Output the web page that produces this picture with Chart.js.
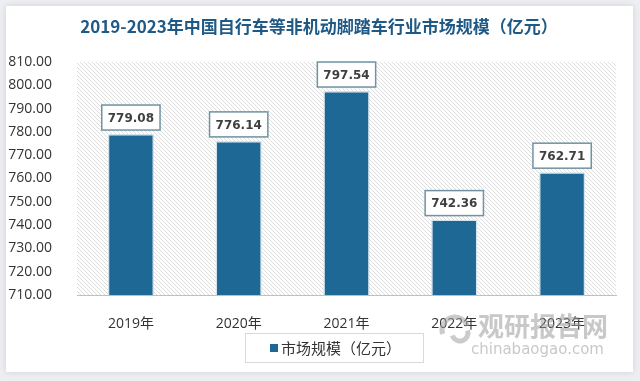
<!DOCTYPE html>
<html>
<head>
<meta charset="utf-8">
<script src="https://cdn.jsdelivr.net/npm/chart.js@4.4.0/dist/chart.umd.min.js"></script>
<style>
  html, body { margin: 0; padding: 0; background: #eceef1; }
  canvas { display: block; }
</style>
</head>
<body>
<canvas id="chart" width="640" height="381"></canvas>
<script>
const title = '2019-2023年中国自行车等非机动脚踏车行业市场规模（亿元）';
const years = ['2019年', '2020年', '2021年', '2022年', '2023年'];
const marketSize = [779.08, 776.14, 797.54, 742.36, 762.71];
const seriesName = '市场规模（亿元）';
const yMin = 710;
const yMax = 810;
const yStep = 10;

const barColor = '#1d6894';

// card, hatch, title, labels, legend, watermark
const decor = {
    id: 'decor',
    beforeDraw(chart) {
        const ctx = chart.ctx;
        const a = chart.chartArea;
        ctx.save();
        ctx.fillStyle = '#eceef1';
        ctx.fillRect(0, 0, chart.width, chart.height);
        ctx.shadowColor = 'rgba(0,0,0,0.12)';
        ctx.shadowBlur = 6;
        ctx.fillStyle = '#ffffff';
        ctx.fillRect(6, 6, 627, 366);
        ctx.restore();

        // diagonal hatch inside plot area
        ctx.save();
        ctx.beginPath();
        ctx.rect(a.left, a.top, a.right - a.left, a.bottom - a.top);
        ctx.clip();
        ctx.strokeStyle = '#dcdcdc';
        ctx.lineWidth = 1;
        const h = a.bottom - a.top;
        for (let x = a.left - h; x < a.right; x += 4) {
            ctx.beginPath();
            ctx.moveTo(x, a.top);
            ctx.lineTo(x + h, a.bottom);
            ctx.stroke();
        }
        ctx.restore();
    },
    afterDatasetsDraw(chart) {
        const ctx = chart.ctx;
        const meta = chart.getDatasetMeta(0);
        ctx.save();
        ctx.font = 'bold 12px "DejaVu Sans"';
        ctx.textAlign = 'center';
        ctx.textBaseline = 'middle';
        meta.data.forEach((bar, i) => {
            const txt = marketSize[i].toFixed(2);
            const w = ctx.measureText(txt).width + 12;
            const bh = 25;
            const bx = bar.x - w / 2;
            const by = bar.y - 4 - bh;
            ctx.fillStyle = '#ffffff';
            ctx.fillRect(bx, by, w, bh);
            ctx.strokeStyle = '#6f93a3';
            ctx.lineWidth = 1.5;
            ctx.strokeRect(bx, by, w, bh);
            ctx.fillStyle = '#404040';
            ctx.fillText(txt, bar.x, by + bh / 2 + 1);
        });
        ctx.restore();
    },
    afterDraw(chart) {
        const ctx = chart.ctx;
        ctx.save();
        // title
        ctx.font = 'bold 17px "Noto Sans CJK SC"';
        ctx.fillStyle = '#1f5a86';
        ctx.textAlign = 'center';
        ctx.textBaseline = 'middle';
        ctx.fillText(title, 319, 27);

        // legend
        ctx.fillStyle = '#ffffff';
        ctx.fillRect(245, 333, 178, 29);
        ctx.strokeStyle = '#d9d9d9';
        ctx.lineWidth = 1;
        ctx.strokeRect(245.5, 333.5, 178, 29);
        ctx.fillStyle = barColor;
        ctx.fillRect(270, 344, 8, 8);
        ctx.font = '15px "Noto Sans CJK SC"';
        ctx.fillStyle = '#333333';
        ctx.textAlign = 'left';
        ctx.fillText(seriesName, 281, 348);

        // watermark
        ctx.globalAlpha = 0.55;
        ctx.fillStyle = '#9a9a9a';
        ctx.font = 'bold 26px "Noto Sans CJK SC"';
        ctx.fillText('观研报告网', 478, 326);
        ctx.font = '15px "DejaVu Sans"';
        ctx.fillText('chinabaogao.com', 471, 350);
        ctx.strokeStyle = '#a0a0a0';
        ctx.lineWidth = 5;
        ctx.beginPath();
        ctx.arc(455, 330, 13, Math.PI * 0.9, Math.PI * 1.9);
        ctx.stroke();
        ctx.beginPath();
        ctx.arc(460, 333, 8, Math.PI * 1.9, Math.PI * 0.9);
        ctx.stroke();
        ctx.restore();
    }
};

const ctx = document.getElementById('chart').getContext('2d');
const myChart = new Chart(ctx, {
    type: 'bar',
    data: {
        labels: years,
        datasets: [{
            label: seriesName,
            data: marketSize,
            backgroundColor: barColor,
            borderColor: '#d3e4ee',
            borderWidth: 1.5,
            barPercentage: 0.43,
            categoryPercentage: 1,
        }],
    },
    options: {
        responsive: false,
        animation: false,
        layout: {
            padding: { top: 62, right: 24, left: 0, bottom: 0 },
        },
        plugins: {
            legend: { display: false },
            title: { display: false },
            tooltip: { enabled: false },
        },
        scales: {
            x: {
                grid: { display: false },
                border: { display: true, color: '#bfbfbf', width: 1 },
                ticks: {
                    color: '#333333',
                    font: { family: '"Open Sans", "Noto Sans CJK SC"', size: 14 },
                    padding: 13,
                },
                afterFit(scale) { scale.height = 86; },
            },
            y: {
                min: yMin,
                max: yMax,
                grid: { display: false },
                border: { display: false },
                ticks: {
                    stepSize: yStep,
                    autoSkip: false,
                    color: '#333333',
                    font: { family: '"Open Sans"', size: 14 },
                    padding: 17,
                    callback: v => v.toFixed(2),
                },
                afterFit(scale) { scale.width = 77; },
            },
        },
    },
    plugins: [decor],
});
</script>
</body>
</html>
